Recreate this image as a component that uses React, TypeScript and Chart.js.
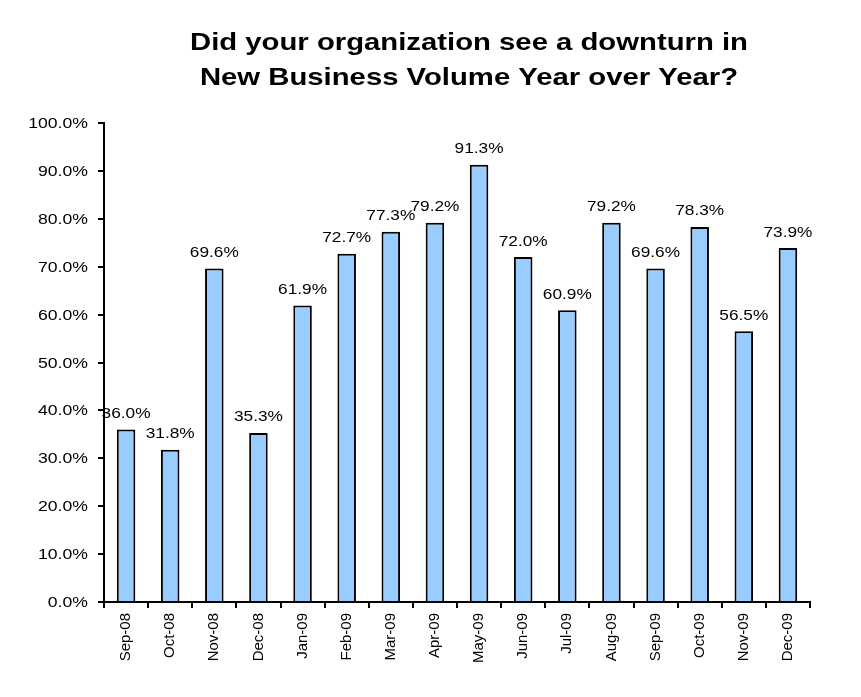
import React, { useEffect, useRef } from "react";
import { Chart, registerables } from "chart.js";

Chart.register(...registerables);

const titleLines = [
  "Did your organization see a downturn in",
  "New Business Volume Year over Year?",
];
const months = [
  "Sep-08", "Oct-08", "Nov-08", "Dec-08", "Jan-09", "Feb-09", "Mar-09", "Apr-09",
  "May-09", "Jun-09", "Jul-09", "Aug-09", "Sep-09", "Oct-09", "Nov-09", "Dec-09",
];
const downturnPct = [
  36.0, 31.8, 69.6, 35.3, 61.9, 72.7, 77.3, 79.2,
  91.3, 72.0, 60.9, 79.2, 69.6, 78.3, 56.5, 73.9,
];
const yMin = 0;
const yMax = 100;
const yStep = 10;

const FONT = "'Liberation Sans', Arial, sans-serif";

function drawStretched(
  ctx: CanvasRenderingContext2D,
  text: string,
  x: number,
  y: number,
  sx: number,
  align: CanvasTextAlign
) {
  ctx.save();
  ctx.translate(x, y);
  ctx.scale(sx, 1);
  ctx.textAlign = align;
  ctx.textBaseline = "alphabetic";
  ctx.fillText(text, 0, 0);
  ctx.restore();
}

const textPlugin = {
  id: "textPlugin",
  afterDraw(chart: any) {
    const ctx: CanvasRenderingContext2D = chart.ctx;
    ctx.save();
    ctx.fillStyle = "#000";
    // title
    ctx.font = `bold 24px ${FONT}`;
    const cx = 469;
    drawStretched(ctx, titleLines[0], cx, 50, 1.22, "center");
    drawStretched(ctx, titleLines[1], cx, 85, 1.22, "center");
    // y tick labels
    const ys = chart.scales.y;
    ctx.font = `14px ${FONT}`;
    ys.ticks.forEach((t: any) => {
      const py = ys.getPixelForValue(t.value);
      drawStretched(ctx, t.label as string, 88, py + 5, 1.26, "right");
    });
    // data labels
    ctx.font = `15px ${FONT}`;
    const meta = chart.getDatasetMeta(0);
    meta.data.forEach((bar: any, i: number) => {
      const v = downturnPct[i];
      drawStretched(ctx, v.toFixed(1) + "%", bar.x, bar.y - 11.5, 1.15, "center");
    });
    ctx.restore();
  },
};

export default function App() {
  const ref = useRef<HTMLCanvasElement | null>(null);

  useEffect(() => {
    document.body.style.margin = "0";
    const canvas = ref.current!;
    const chart = new Chart(canvas, {
      type: "bar",
      data: {
        labels: months,
        datasets: [
          {
            data: downturnPct,
            backgroundColor: "#99CCFF",
            borderColor: "#000000",
            borderWidth: 2,
            barPercentage: 0.42,
            categoryPercentage: 1,
          },
        ],
      },
      options: {
        responsive: false,
        animation: false,
        devicePixelRatio: 1,
        layout: { padding: { top: 123, right: 51, left: 0, bottom: 0 } },
        plugins: {
          legend: { display: false },
          title: { display: false },
          tooltip: { enabled: false },
        },
        scales: {
          x: {
            grid: {
              display: true,
              offset: true,
              drawOnChartArea: false,
              drawTicks: true,
              tickLength: 6,
              color: "#000",
              lineWidth: 2,
            },
            border: { display: true, color: "#000", width: 2 },
            ticks: {
              color: "#000",
              font: { family: FONT, size: 15 },
              minRotation: 90,
              maxRotation: 90,
              padding: 5,
              autoSkip: false,
            },
            afterFit(scale: any) {
              scale.height = 95;
              scale.paddingLeft = 0;
              scale.paddingRight = 0;
            },
          },
          y: {
            min: yMin,
            max: yMax,
            grid: {
              display: true,
              drawOnChartArea: false,
              drawTicks: true,
              tickLength: 6,
              color: "#000",
              lineWidth: 2,
            },
            border: { display: true, color: "#000", width: 2 },
            ticks: {
              stepSize: yStep,
              color: "rgba(0,0,0,0)",
              font: { family: FONT, size: 14 },
              callback: (v: any) => Number(v).toFixed(1) + "%",
            },
            afterFit(scale: any) {
              scale.width = 104;
              scale.paddingTop = 0;
              scale.paddingBottom = 0;
            },
          },
        },
      },
      plugins: [textPlugin],
    });
    return () => chart.destroy();
  }, []);

  return (
    <div style={{ width: 861, height: 697, background: "#fff" }}>
      <canvas ref={ref} width={861} height={697} style={{ display: "block" }} />
    </div>
  );
}
